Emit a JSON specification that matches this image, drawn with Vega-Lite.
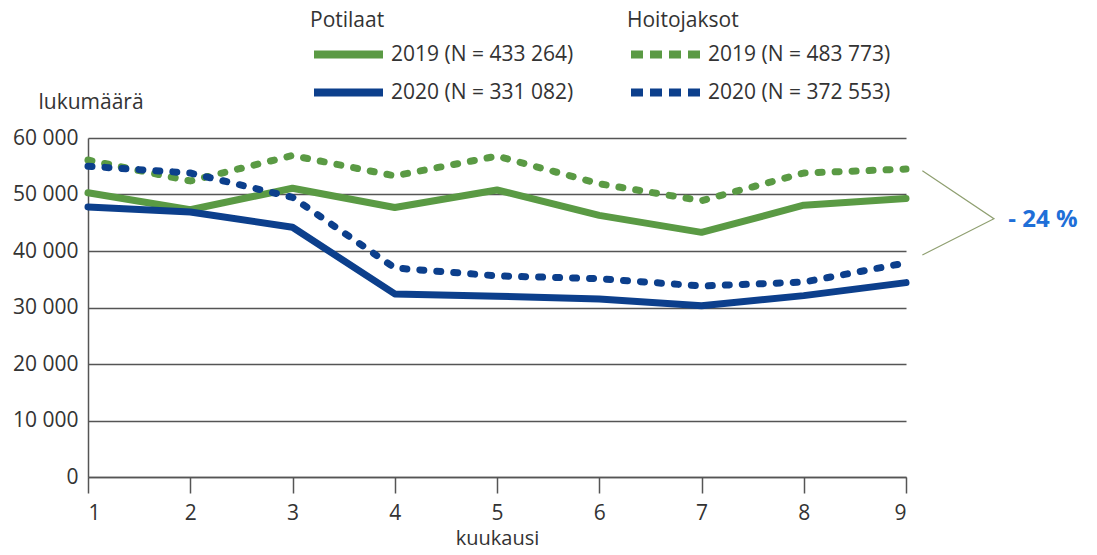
{
  "$schema": "https://vega.github.io/schema/vega-lite/v6.json",
  "width": 818,
  "height": 339,
  "autosize": {"type": "none"},
  "padding": {"left": 88, "top": 138, "right": 191, "bottom": 78},
  "background": "white",
  "config": {
    "font": "Open Sans",
    "view": {"stroke": null},
    "axis": {"labelFont": "Open Sans", "titleFont": "Open Sans", "labelColor": "#333333", "titleColor": "#333333", "labelFontSize": 21, "titleFontSize": 21, "titleFontWeight": "normal"},
    "legend": {"labelFont": "Open Sans", "titleFont": "Open Sans", "labelFontSize": 21, "titleFontSize": 21, "titleFontWeight": "normal", "labelColor": "#333333", "titleColor": "#333333", "labelLimit": 400, "orient": "none", "symbolType": "stroke", "symbolStrokeWidth": 8, "symbolSize": 4761, "labelOffset": 4}
  },
  "datasets": {
    "series": [
      {"month": 1, "value": 50300, "group": "Potilaat", "label": "2019 (N = 433 264)"},
      {"month": 2, "value": 47300, "group": "Potilaat", "label": "2019 (N = 433 264)"},
      {"month": 3, "value": 51100, "group": "Potilaat", "label": "2019 (N = 433 264)"},
      {"month": 4, "value": 47700, "group": "Potilaat", "label": "2019 (N = 433 264)"},
      {"month": 5, "value": 50800, "group": "Potilaat", "label": "2019 (N = 433 264)"},
      {"month": 6, "value": 46300, "group": "Potilaat", "label": "2019 (N = 433 264)"},
      {"month": 7, "value": 43300, "group": "Potilaat", "label": "2019 (N = 433 264)"},
      {"month": 8, "value": 48100, "group": "Potilaat", "label": "2019 (N = 433 264)"},
      {"month": 9, "value": 49300, "group": "Potilaat", "label": "2019 (N = 433 264)"},
      {"month": 1, "value": 47800, "group": "Potilaat", "label": "2020 (N = 331 082)"},
      {"month": 2, "value": 46900, "group": "Potilaat", "label": "2020 (N = 331 082)"},
      {"month": 3, "value": 44200, "group": "Potilaat", "label": "2020 (N = 331 082)"},
      {"month": 4, "value": 32400, "group": "Potilaat", "label": "2020 (N = 331 082)"},
      {"month": 5, "value": 32000, "group": "Potilaat", "label": "2020 (N = 331 082)"},
      {"month": 6, "value": 31500, "group": "Potilaat", "label": "2020 (N = 331 082)"},
      {"month": 7, "value": 30300, "group": "Potilaat", "label": "2020 (N = 331 082)"},
      {"month": 8, "value": 32100, "group": "Potilaat", "label": "2020 (N = 331 082)"},
      {"month": 9, "value": 34400, "group": "Potilaat", "label": "2020 (N = 331 082)"},
      {"month": 1, "value": 56100, "group": "Hoitojaksot", "label": "2019 (N = 483 773)"},
      {"month": 2, "value": 52400, "group": "Hoitojaksot", "label": "2019 (N = 483 773)"},
      {"month": 3, "value": 56900, "group": "Hoitojaksot", "label": "2019 (N = 483 773)"},
      {"month": 4, "value": 53300, "group": "Hoitojaksot", "label": "2019 (N = 483 773)"},
      {"month": 5, "value": 56800, "group": "Hoitojaksot", "label": "2019 (N = 483 773)"},
      {"month": 6, "value": 51900, "group": "Hoitojaksot", "label": "2019 (N = 483 773)"},
      {"month": 7, "value": 48900, "group": "Hoitojaksot", "label": "2019 (N = 483 773)"},
      {"month": 8, "value": 53800, "group": "Hoitojaksot", "label": "2019 (N = 483 773)"},
      {"month": 9, "value": 54500, "group": "Hoitojaksot", "label": "2019 (N = 483 773)"},
      {"month": 1, "value": 55000, "group": "Hoitojaksot", "label": "2020 (N = 372 553)"},
      {"month": 2, "value": 53800, "group": "Hoitojaksot", "label": "2020 (N = 372 553)"},
      {"month": 3, "value": 49500, "group": "Hoitojaksot", "label": "2020 (N = 372 553)"},
      {"month": 4, "value": 37000, "group": "Hoitojaksot", "label": "2020 (N = 372 553)"},
      {"month": 5, "value": 35600, "group": "Hoitojaksot", "label": "2020 (N = 372 553)"},
      {"month": 6, "value": 35100, "group": "Hoitojaksot", "label": "2020 (N = 372 553)"},
      {"month": 7, "value": 33800, "group": "Hoitojaksot", "label": "2020 (N = 372 553)"},
      {"month": 8, "value": 34500, "group": "Hoitojaksot", "label": "2020 (N = 372 553)"},
      {"month": 9, "value": 37900, "group": "Hoitojaksot", "label": "2020 (N = 372 553)"}
    ],
    "bracket": [
      {"month": 9.16, "value": 54200, "order": 1},
      {"month": 9.86, "value": 45700, "order": 2},
      {"month": 9.16, "value": 39300, "order": 3}
    ],
    "note": [
      {"month": 10.0, "value": 45500, "text": "- 24 %"}
    ]
  },
  "layer": [
    {
      "data": {"name": "series"},
      "transform": [{"filter": "datum.label === '2019 (N = 433 264)'"}],
      "mark": {"type": "line", "strokeWidth": 7, "strokeCap": "round", "strokeJoin": "round"},
      "encoding": {
        "x": {"field": "month", "type": "quantitative", "scale": {"domain": [1, 9], "nice": false, "zero": false},
          "axis": {"values": [1,2,3,4,5,6,7,8,9], "format": "d", "title": "kuukausi", "titleFontSize": 20, "grid": false, "domainColor": "#555555", "domainWidth": 1.5, "tickColor": "#555555", "tickWidth": 1.5, "tickSize": 16, "labelPadding": 9, "titlePadding": 5}},
        "y": {"field": "value", "type": "quantitative", "scale": {"domain": [0, 60000], "nice": false},
          "axis": {"values": [0,10000,20000,30000,40000,50000,60000], "labelExpr": "replace(format(datum.value, ','), ',', ' ')", "ticks": false, "labelPadding": 10, "grid": true, "gridColor": "#555555", "gridWidth": 1.5, "domainColor": "#555555", "domainWidth": 1.5, "title": "lukumäärä", "titleAngle": 0, "titleAlign": "left", "titleBaseline": "middle", "titleX": -50, "titleY": -36}},
        "color": {"field": "label", "type": "nominal",
          "scale": {"domain": ["2019 (N = 433 264)"], "range": ["#5a9a44"]},
          "legend": {"title": "Potilaat", "legendX": 222, "legendY": -128, "titlePadding": -15}}
      }
    },
    {
      "data": {"name": "series"},
      "transform": [{"filter": "datum.label === '2020 (N = 331 082)'"}],
      "mark": {"type": "line", "strokeWidth": 7, "strokeCap": "round", "strokeJoin": "round"},
      "encoding": {
        "x": {"field": "month", "type": "quantitative"},
        "y": {"field": "value", "type": "quantitative"},
        "color": {"field": "label", "type": "nominal",
          "scale": {"domain": ["2020 (N = 331 082)"], "range": ["#0c3f8c"]},
          "legend": {"title": null, "legendX": 222, "legendY": -84}}
      }
    },
    {
      "data": {"name": "series"},
      "transform": [{"filter": "datum.label === '2019 (N = 483 773)'"}],
      "mark": {"type": "line", "strokeWidth": 7, "strokeCap": "round", "strokeJoin": "round", "strokeDash": [4, 13]},
      "encoding": {
        "x": {"field": "month", "type": "quantitative"},
        "y": {"field": "value", "type": "quantitative"},
        "color": {"field": "label", "type": "nominal",
          "scale": {"domain": ["2019 (N = 483 773)"], "range": ["#5a9a44"]},
          "legend": {"title": "Hoitojaksot", "legendX": 539, "legendY": -128, "titlePadding": -15, "symbolDash": [12, 7]}}
      }
    },
    {
      "data": {"name": "series"},
      "transform": [{"filter": "datum.label === '2020 (N = 372 553)'"}],
      "mark": {"type": "line", "strokeWidth": 7, "strokeCap": "round", "strokeJoin": "round", "strokeDash": [4, 13]},
      "encoding": {
        "x": {"field": "month", "type": "quantitative"},
        "y": {"field": "value", "type": "quantitative"},
        "color": {"field": "label", "type": "nominal",
          "scale": {"domain": ["2020 (N = 372 553)"], "range": ["#0c3f8c"]},
          "legend": {"title": null, "legendX": 539, "legendY": -84, "symbolDash": [12, 7]}}
      }
    },
    {
      "data": {"name": "bracket"},
      "mark": {"type": "line", "color": "#8f9f70", "strokeWidth": 1.2},
      "encoding": {
        "x": {"field": "month", "type": "quantitative"},
        "y": {"field": "value", "type": "quantitative"},
        "order": {"field": "order"}
      }
    },
    {
      "data": {"name": "note"},
      "mark": {"type": "text", "align": "left", "baseline": "middle", "fontSize": 24, "fontWeight": "bold", "color": "#1f6fd8", "font": "Open Sans"},
      "encoding": {
        "x": {"field": "month", "type": "quantitative"},
        "y": {"field": "value", "type": "quantitative"},
        "text": {"field": "text"}
      }
    }
  ],
  "resolve": {"scale": {"color": "independent"}, "legend": {"color": "independent"}}
}
